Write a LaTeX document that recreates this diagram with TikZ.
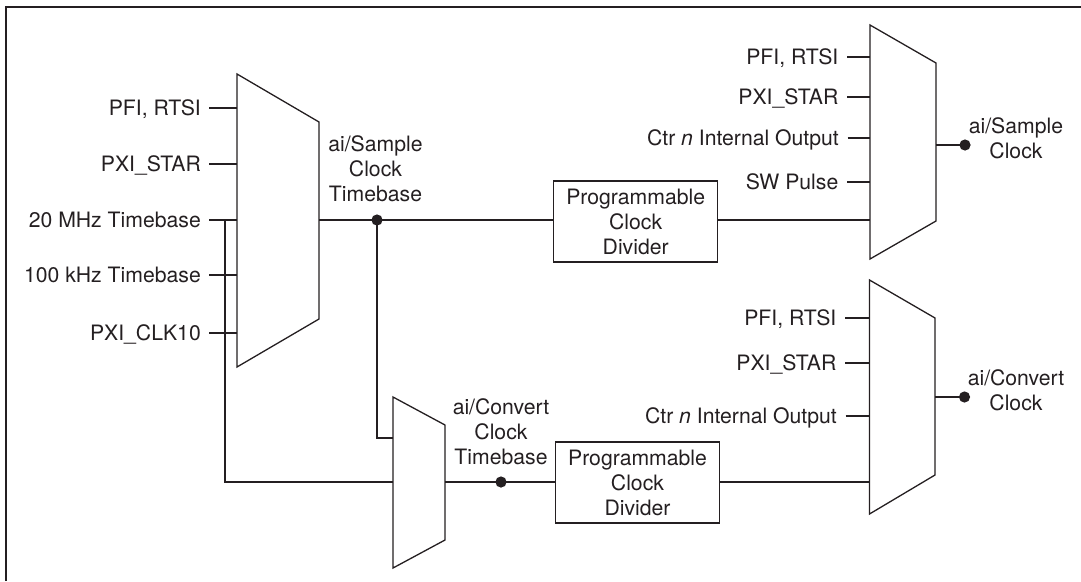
\documentclass[tikz,border=0pt]{standalone}
\usepackage{fontspec}
\setmainfont{TeX Gyre Heros}
\definecolor{ink}{rgb}{0.14,0.12,0.13}
\begin{document}
\begin{tikzpicture}[x=1pt,y=-1pt,
  every node/.style={font=\fontsize{21.2}{25}\selectfont, text=ink, inner sep=0pt},
  wire/.style={draw=ink, line width=1.3pt},
  muxshape/.style={draw=ink, line width=1.3pt, line join=miter},
  inlab/.style={anchor=east, text height=15.2pt, text depth=0pt},
  multilab/.style={align=center},
  pcd/.style={draw=ink, line width=1.3pt, align=center, minimum width=164pt, minimum height=81pt},
  jdot/.style={fill=ink}
]
\useasboundingbox (0,0) rectangle (1081,581);
% frame
\draw[ink, line width=2pt] (5.9,581) -- (5.9,7.3) -- (1082,7.3);

% ---------- mux A ----------
\draw[muxshape] (237,74) -- (319,122) -- (319,319) -- (237,367) -- cycle;
\coordinate (a1) at (237,108);
\coordinate (a2) at (237,164);
\coordinate (a3) at (237,220);
\coordinate (a4) at (237,275);
\coordinate (a5) at (237,333);
\coordinate (aout) at (319,220);
\node[inlab] (la1) at (201,108) {PFI, RTSI};
\node[inlab] (la2) at (201,164) {PXI\_STAR};
\node[inlab] (la3) at (201,220) {20 MHz Timebase};
\node[inlab] (la4) at (201,275) {100 kHz Timebase};
\node[inlab] (la5) at (201,333) {PXI\_CLK10};
\foreach \i in {1,...,5} \draw[wire] ([xshift=8pt]la\i.east) -- (a\i);

% ---------- mux B ----------
\draw[muxshape] (393,397) -- (445,425) -- (445,540) -- (393,568) -- cycle;
\coordinate (b1) at (393,438);
\coordinate (b2) at (393,482);
\coordinate (bout) at (445,482);

% bus from 20 MHz
\coordinate (bus) at (225,220);
\draw[wire] (bus) |- (b2);

% sample clock timebase
\node[multilab] (lst) at (375.5,169) {ai/Sample\\Clock\\Timebase};
\node[pcd] (pcd1) at (635.7,221.5) {Programmable\\Clock\\Divider};
\coordinate (d1) at (377,220);
\draw[wire] (aout) -- (aout -| pcd1.west);
\draw[wire] (d1) |- (b1);
\fill[jdot] (d1) circle (5.6pt);

% convert clock timebase
\node[multilab] (lct) at (501,432) {ai/Convert\\Clock\\Timebase};
\node[pcd] (pcd2) at (637.5,482.5) {Programmable\\Clock\\Divider};
\coordinate (d2) at (501,482);
\draw[wire] (bout) -- (bout -| pcd2.west);
\fill[jdot] (d2) circle (5.6pt);

% ---------- mux C ----------
\draw[muxshape] (870,25) -- (936,63) -- (936,221) -- (870,259) -- cycle;
\coordinate (c1) at (870,57);
\coordinate (c2) at (870,97);
\coordinate (c3) at (870,138);
\coordinate (c4) at (870,182);
\coordinate (c5) at (870,220);
\coordinate (cout) at (936,145);
\node[inlab] (lc1) at (838.5,57) {PFI, RTSI};
\node[inlab] (lc2) at (838.5,97) {PXI\_STAR};
\node[inlab] (lc3) at (839,138) {Ctr \textit{n} Internal Output};
\node[inlab] (lc4) at (838.5,182) {SW Pulse};
\foreach \i in {1,...,4} \draw[wire] ([xshift=8.5pt]lc\i.east) -- (c\i);
\draw[wire] (pcd1.east |- c5) -- (c5);
\coordinate (e1) at (965,145);
\draw[wire] (cout) -- (e1);
\fill[jdot] (e1) circle (5.6pt);
\node[multilab] (lsc) at (1016,138) {ai/Sample\\Clock};

% ---------- mux D ----------
\draw[muxshape] (869.5,280) -- (935,318) -- (935,475) -- (869.5,514) -- cycle;
\coordinate (m1) at (869.5,318);
\coordinate (m2) at (869.5,363);
\coordinate (m3) at (869.5,416);
\coordinate (m4) at (869.5,482);
\coordinate (mout) at (935,397);
\node[inlab] (lm1) at (836.5,318) {PFI, RTSI};
\node[inlab] (lm2) at (836.5,363) {PXI\_STAR};
\node[inlab] (lm3) at (837,416) {Ctr \textit{n} Internal Output};
\foreach \i in {1,...,3} \draw[wire] ([xshift=8.5pt]lm\i.east) -- (m\i);
\draw[wire] (pcd2.east |- m4) -- (m4);
\coordinate (e2) at (964.5,397);
\draw[wire] (mout) -- (e2);
\fill[jdot] (e2) circle (5.6pt);
\node[multilab] (lcc) at (1016,390) {ai/Convert\\Clock};
\end{tikzpicture}
\end{document}
